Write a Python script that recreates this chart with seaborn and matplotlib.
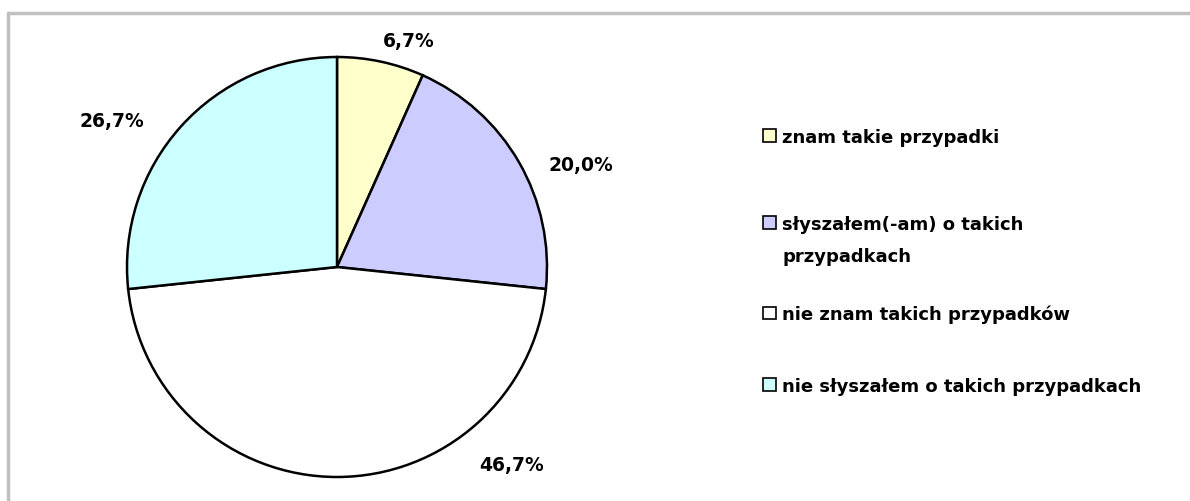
import numpy as np
import matplotlib
matplotlib.use("Agg")
import matplotlib.pyplot as plt
import seaborn as sns
from matplotlib.lines import Line2D
from matplotlib.patches import Patch

# dane
categories = ['znam takie przypadki',
              'słyszałem(-am) o takich\nprzypadkach',
              'nie znam takich przypadków',
              'nie słyszałem o takich przypadkach']
values = [6.7, 20.0, 46.7, 26.7]
colors = ['#FFFFCC', '#CCCCFF', '#FFFFFF', '#CCFFFF']

sns.set_theme(style='white')
plt.rcParams['font.family'] = ['DejaVu Sans']
plt.rcParams['text.color'] = 'black'

W, H = 1190, 502
fig = plt.figure(figsize=(W / 100, H / 100), dpi=100)

# ramka obszaru wykresu (prawa i dolna krawędź poza obrazem)
fx, fy = 8 / W, 1 - 14 / H
fig.add_artist(Line2D([fx, 1.0], [fy, fy], transform=fig.transFigure,
                      color='#C0C0C0', linewidth=2.5))
fig.add_artist(Line2D([fx, fx], [0.0, fy], transform=fig.transFigure,
                      color='#C0C0C0', linewidth=2.5))

cx, cy, r = 337, 268, 210
ax = fig.add_axes([(cx - r) / W, (H - cy - r) / H, 2 * r / W, 2 * r / H])
wedges, texts = ax.pie(
    values, colors=colors, startangle=90, counterclock=False,
    wedgeprops=dict(edgecolor='black', linewidth=1.8))
ax.set_xlim(-1, 1)
ax.set_ylim(-1, 1)
ax.set_aspect('equal')
ax.axis('off')

# pozycje etykiet (układ jak w Excelu)
label_pos = [(0.34, 1.08), (1.16, 0.49), (0.83, -0.94), (-1.07, 0.70)]
for v, (x, y) in zip(values, label_pos):
    ax.text(x, y, f'{v:.1f}%'.replace('.', ','), ha='center', va='center',
            fontsize=13.5, fontweight='bold', color='black', clip_on=False)

# legenda - każdy wpis osobno, jak w Excelu
legend_y = [138, 225, 315, 387]
for cat, c, ly in zip(categories, colors, legend_y):
    lines = cat.split('\n')
    h = Patch(facecolor=c, edgecolor='black', linewidth=1.2)
    leg = fig.legend([h], [lines[0]], loc='center left',
                     bbox_to_anchor=(763 / W, 1 - ly / H), frameon=False,
                     prop=dict(size=13, weight='bold'), handlelength=0.7,
                     handleheight=0.7, handletextpad=0.35, borderpad=0,
                     borderaxespad=0)
    for t in leg.get_texts():
        t.set_color('black')
    for k, extra in enumerate(lines[1:], start=1):
        fig.text(782 / W, 1 - (ly + 32 * k) / H, extra, ha='left',
                 va='center', fontsize=13, fontweight='bold', color='black')

fig.savefig('out.png', dpi=100)
